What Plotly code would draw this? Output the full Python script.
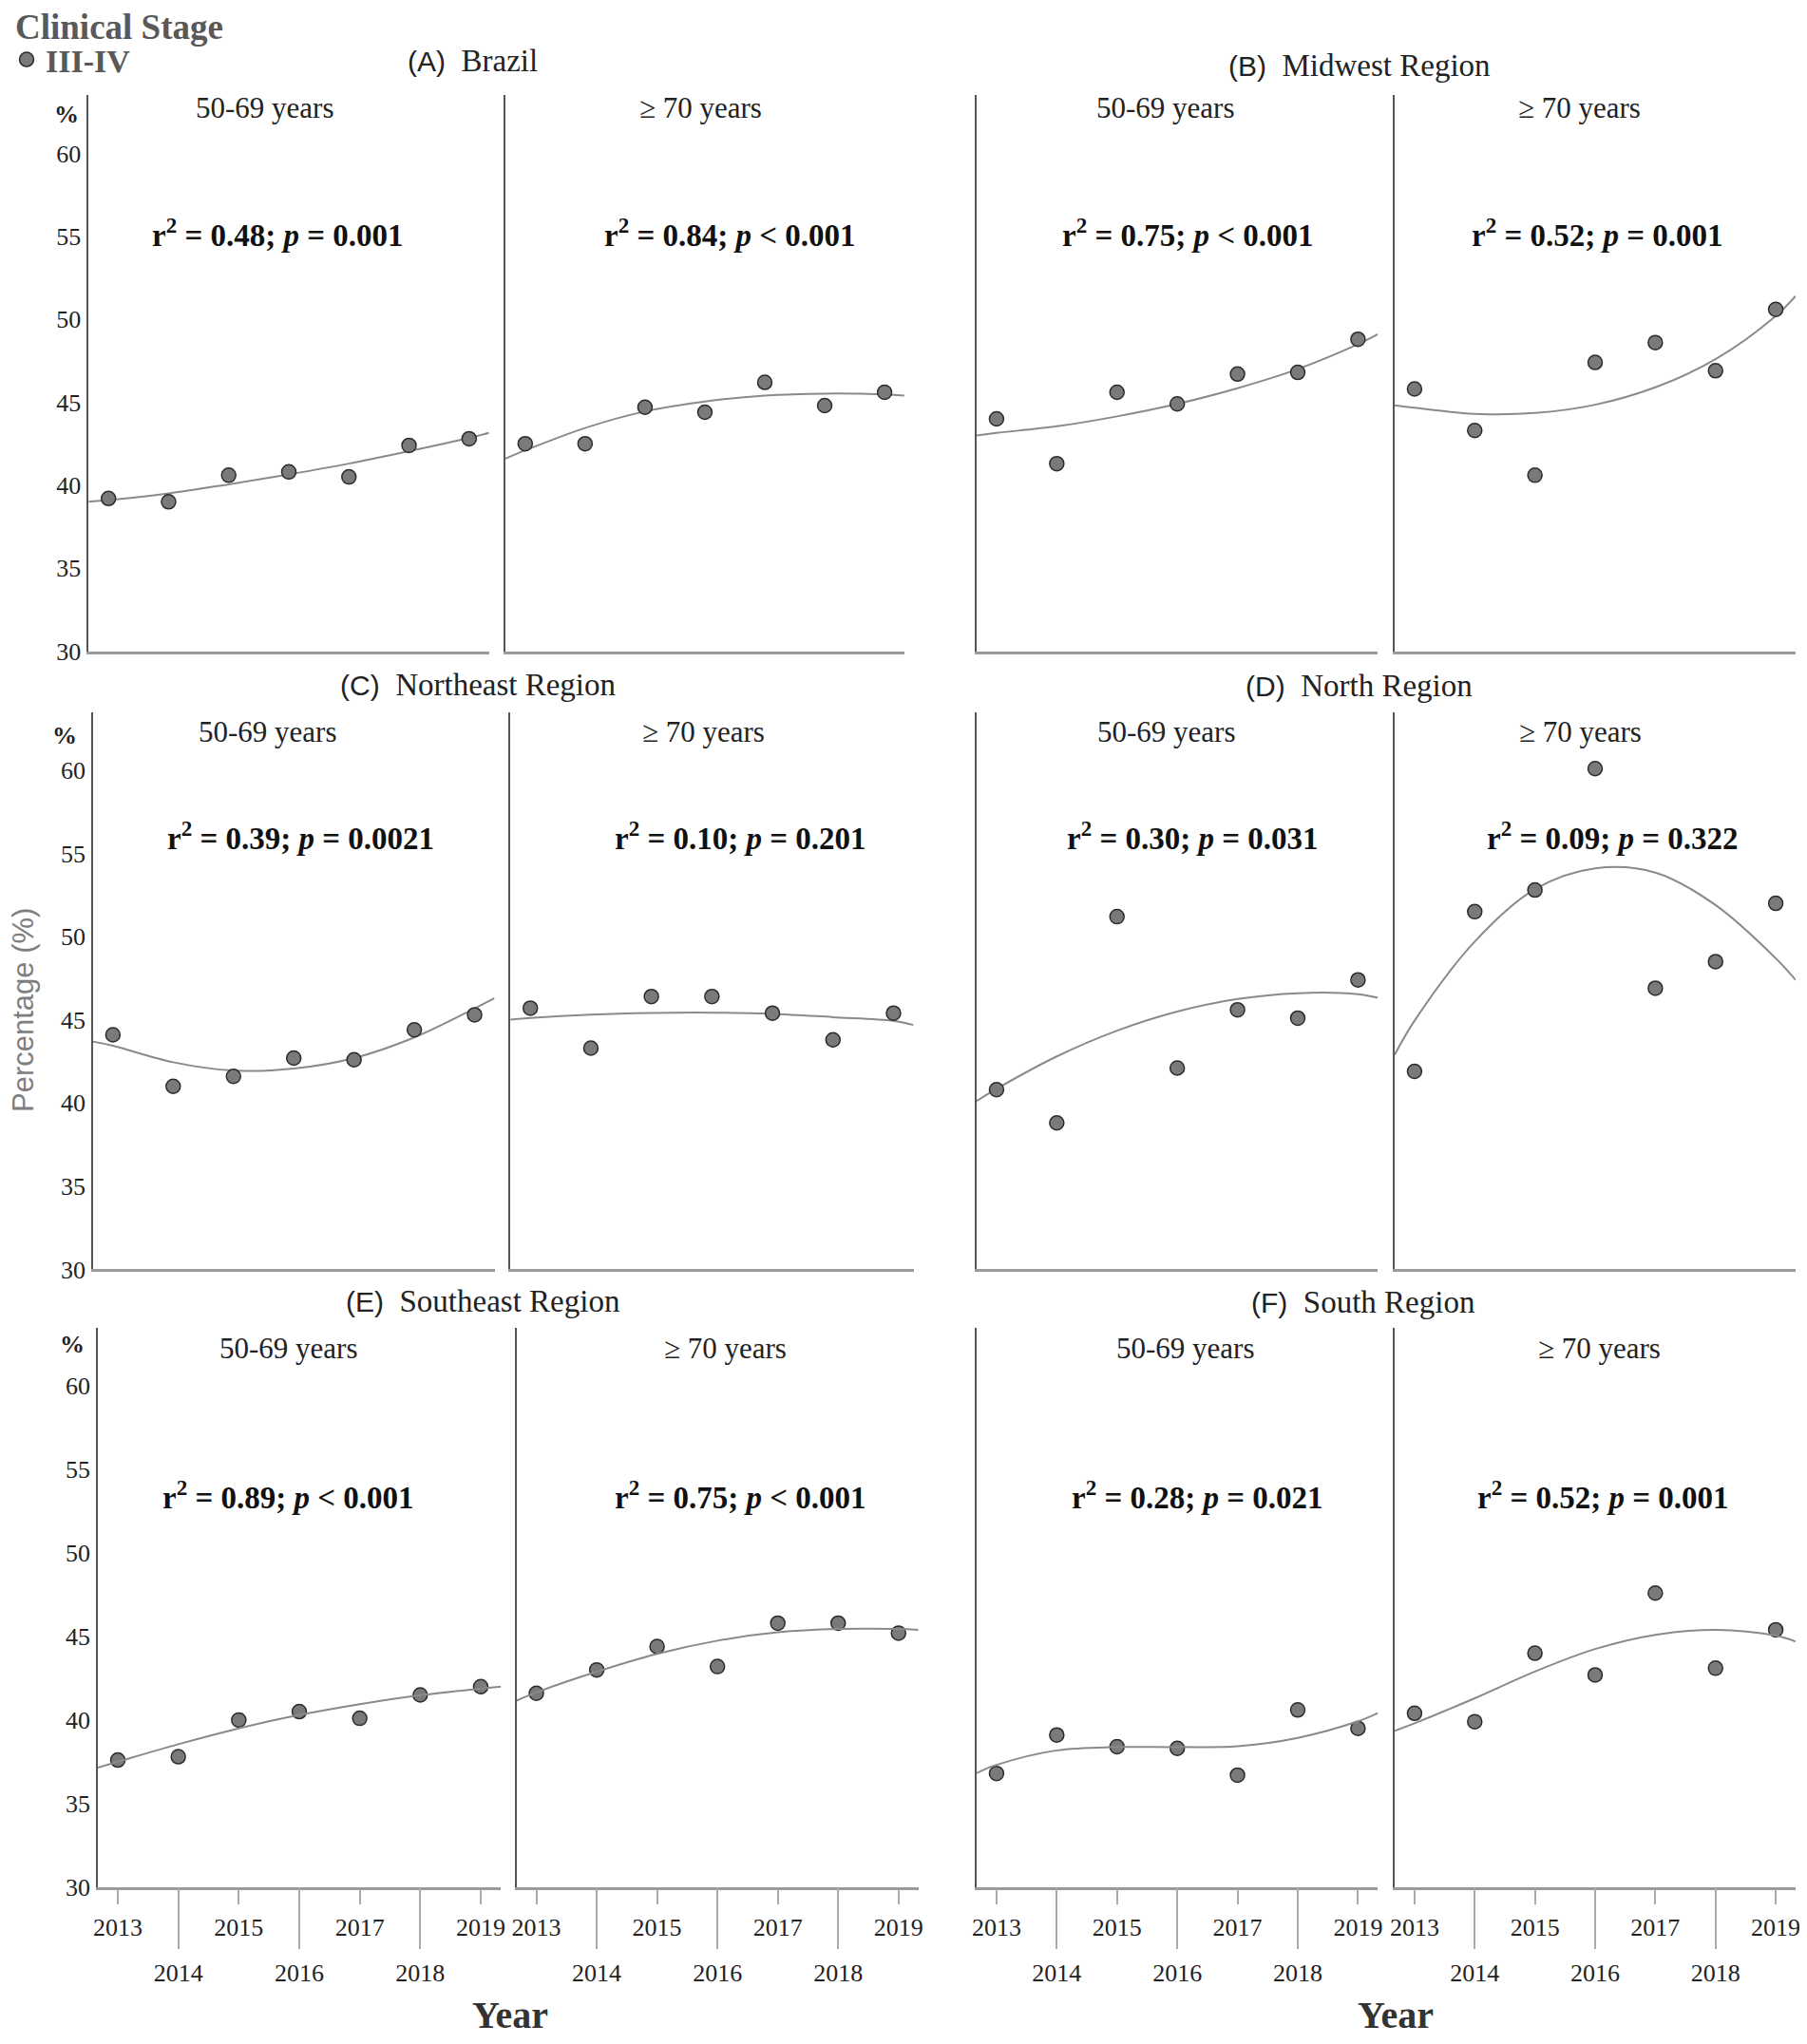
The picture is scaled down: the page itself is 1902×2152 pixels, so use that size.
import plotly.graph_objects as go

years = [2013, 2014, 2015, 2016, 2017, 2018, 2019]
fit_years = [2012.67, 2013, 2014, 2015, 2016, 2017, 2018, 2019, 2019.33]
x_range = [2012.67, 2019.33]
y_ticks = [30, 35, 40, 45, 50, 55, 60]

# Observed percentage of clinical stage III-IV
brazil_50_69 = [39.2, 39.0, 40.6, 40.8, 40.5, 42.4, 42.8]
brazil_70 = [42.5, 42.5, 44.7, 44.4, 46.2, 44.8, 45.6]
midwest_50_69 = [44.0, 41.3, 45.6, 44.9, 46.7, 46.8, 48.8]
midwest_70 = [45.8, 43.3, 40.6, 47.4, 48.6, 46.9, 50.6]
northeast_50_69 = [44.1, 41.0, 41.6, 42.7, 42.6, 44.4, 45.3]
northeast_70 = [45.7, 43.3, 46.4, 46.4, 45.4, 43.8, 45.4]
north_50_69 = [40.8, 38.8, 51.2, 42.1, 45.6, 45.1, 47.4]
north_70 = [41.9, 51.5, 52.8, 60.1, 46.9, 48.5, 52.0]
southeast_50_69 = [37.6, 37.8, 40.0, 40.5, 40.1, 41.5, 42.0]
southeast_70 = [41.6, 43.0, 44.4, 43.2, 45.8, 45.8, 45.2]
south_50_69 = [36.8, 39.1, 38.4, 38.3, 36.7, 40.6, 39.5]
south_70 = [40.4, 39.9, 44.0, 42.7, 47.6, 43.1, 45.4]

# Trend curves at fit_years
brazil_50_69_fit = [39.0, 39.1, 39.5, 40.05, 40.65, 41.3, 42.05, 42.85, 43.15]
brazil_70_fit = [41.6, 42.1, 43.45, 44.45, 45.05, 45.4, 45.52, 45.47, 45.4]
midwest_50_69_fit = [43.0, 43.15, 43.55, 44.15, 44.9, 45.85, 47.0, 48.5, 49.1]
midwest_70_fit = [44.82, 44.67, 44.3, 44.35, 44.85, 45.9, 47.6, 50.2, 51.4]
northeast_50_69_fit = [43.69, 43.44, 42.45, 41.95, 42.07, 42.7, 43.94, 45.68, 46.3]
northeast_70_fit = [45.01, 45.11, 45.31, 45.41, 45.43, 45.36, 45.16, 44.94, 44.69]
north_50_69_fit = [40.12, 40.85, 42.8, 44.35, 45.5, 46.25, 46.6, 46.54, 46.32]
north_70_fit = [42.9, 44.95, 49.7, 52.85, 54.1, 53.85, 51.9, 48.7, 47.4]
southeast_50_69_fit = [37.15, 37.5, 38.55, 39.5, 40.3, 40.95, 41.48, 41.88, 42.0]
southeast_70_fit = [41.16, 41.65, 42.89, 43.96, 44.75, 45.25, 45.45, 45.45, 45.4]
south_50_69_fit = [36.82, 37.31, 38.18, 38.38, 38.38, 38.43, 38.93, 39.92, 40.41]
south_70_fit = [39.35, 39.8, 41.3, 42.9, 44.25, 45.1, 45.4, 45.05, 44.7]

age_groups = ["50-69 years", "\u2265 70 years"]
r2_values = ["0.48", "0.84", "0.75", "0.52", "0.39", "0.10",
             "0.30", "0.09", "0.89", "0.75", "0.28", "0.52"]
p_values = ["= 0.001", "&lt; 0.001", "&lt; 0.001", "= 0.001", "= 0.0021", "= 0.201",
            "= 0.031", "= 0.322", "&lt; 0.001", "&lt; 0.001", "= 0.021", "= 0.001"]

panels = [
    ("(A)", "Brazil", [brazil_50_69, brazil_70], [brazil_50_69_fit, brazil_70_fit]),
    ("(B)", "Midwest Region", [midwest_50_69, midwest_70], [midwest_50_69_fit, midwest_70_fit]),
    ("(C)", "Northeast Region", [northeast_50_69, northeast_70], [northeast_50_69_fit, northeast_70_fit]),
    ("(D)", "North Region", [north_50_69, north_70], [north_50_69_fit, north_70_fit]),
    ("(E)", "Southeast Region", [southeast_50_69, southeast_70], [southeast_50_69_fit, southeast_70_fit]),
    ("(F)", "South Region", [south_50_69, south_70], [south_50_69_fit, south_70_fit]),
]

# ---- geometry: positions are page pixels of the 1902x2152 window ----
# the html body keeps its default 8px margin, so the figure is 16px smaller
PAGE_W, PAGE_H, PAD = 1902, 2152, 8
W, H = PAGE_W - 2 * PAD, PAGE_H - 2 * PAD

row_px = [(100.4, 685.5), (749.7, 1336.4), (1397.7, 1986.7)]
col_px = [
    [(93.3, 514.7), (532, 951.9), (1028, 1450.3), (1468, 1890)],
    [(97.9, 520.5), (537.2, 961.5), (1028, 1450.3), (1468, 1890)],
    [(103, 527), (543.6, 966.7), (1028, 1450.3), (1468, 1890)],
]
title_px = [(497, 64), (1431, 69), (503, 721), (1430, 722), (508, 1370), (1434, 1371)]
sub_x = [0.44, 0.49, 0.47, 0.46, 0.434, 0.479, 0.473, 0.464, 0.473, 0.52, 0.52, 0.51]
r2_x = [0.473, 0.564, 0.528, 0.506, 0.517, 0.572, 0.538, 0.544, 0.473, 0.557, 0.55, 0.52]
sub_y = [62.75, 62.3, 62.25]
r2_y = [55.2, 56.05, 53.45]
pct_px = [(70, 121), (68, 774), (76, 1416)]

serif = "Liberation Serif"
sans = "Liberation Sans"
dark = "#222222"
legend_grey = "#595959"


def fx(px):
    return (px - PAD) / W


def fy(py):
    return 1 - (py - PAD) / H


def aid(n):
    # plotly names the first axis "x"/"y", the rest "x2", "y2", ...
    return "" if n == 1 else str(n)


def note(text, x, y, size, xref="paper", yref="paper", family=serif, color=dark,
         xanchor="center", **kw):
    return dict(x=x, y=y, xref=xref, yref=yref, text=text, showarrow=False,
                xanchor=xanchor, yanchor="middle",
                font=dict(family=family, size=size, color=color), **kw)


fig = go.Figure()
layout = {}
annotations = []

for i, (tag, region, obs, fits) in enumerate(panels):
    row = i // 2
    tx, ty = title_px[i]
    annotations.append(note(
        f"<span style='font-family:{sans}; font-size:30px'>{tag}</span>\u00a0 {region}",
        fx(tx), fy(ty), 33))
    for j in range(2):
        col = (i % 2) * 2 + j
        k = row * 4 + col + 1
        a = aid(k)
        x0, x1 = col_px[row][col]
        y0, y1 = row_px[row]
        fit_xaxis = f"x{a}"
        xa = dict(domain=[fx(x0), fx(x1)], range=x_range, anchor=f"y{a}",
                  showline=True, linecolor="#9a9a9a", linewidth=2.5, automargin=False,
                  showgrid=False, zeroline=False, fixedrange=True)
        if row == 2:
            xa.update(tickmode="array", tickvals=years[::2],
                      ticktext=[str(v) for v in years[::2]],
                      ticks="outside", ticklen=16, tickwidth=2, tickcolor="#aaaaaa",
                      ticklabelstandoff=1, ticklabeloverflow="allow",
                      tickfont=dict(family=serif, size=26, color=dark))
            ov = 13 + col
            fit_xaxis = f"x{ov}"
            layout[f"xaxis{ov}"] = dict(
                overlaying=f"x{a}", anchor=f"y{a}", side="bottom", range=x_range,
                tickmode="array", tickvals=years[1::2],
                ticktext=[str(v) for v in years[1::2]],
                ticks="outside", ticklen=64, tickwidth=2, tickcolor="#aaaaaa",
                ticklabelstandoff=3, ticklabeloverflow="allow",
                tickfont=dict(family=serif, size=26, color=dark),
                showline=False, showgrid=False, zeroline=False, fixedrange=True,
                automargin=False)
        else:
            xa.update(showticklabels=False, ticks="")
        layout[f"xaxis{a}"] = xa
        layout[f"yaxis{a}"] = dict(
            domain=[fy(y1), fy(y0)], range=[30, 63.5], anchor=f"x{a}",
            showline=True, linecolor="#555555", linewidth=1.5, automargin=False,
            showgrid=False, zeroline=False, ticks="", tickvals=y_ticks,
            showticklabels=(col == 0), ticklabelstandoff=1,
            tickfont=dict(family=serif, size=26, color=dark), fixedrange=True)

        fig.add_trace(go.Scatter(
            x=fit_years, y=fits[j], mode="lines",
            line=dict(color="#8a8a8a", width=2, shape="spline"),
            xaxis=fit_xaxis, yaxis=f"y{a}", showlegend=False, hoverinfo="skip"))
        fig.add_trace(go.Scatter(
            x=years, y=obs[j], mode="markers", name="<b>III-IV</b>",
            marker=dict(size=15, color="#7a7a7a", line=dict(color="#2b2b2b", width=1.5)),
            xaxis=f"x{a}", yaxis=f"y{a}", showlegend=(k == 1)))

        annotations.append(note(age_groups[j], sub_x[k - 1], sub_y[row], 31,
                                xref=f"x{a} domain", yref=f"y{a}"))
        annotations.append(note(
            f"<b>r<sup>2</sup> = {r2_values[k - 1]}; <i>p</i> {p_values[k - 1]}</b>",
            r2_x[k - 1], r2_y[row], 33, xref=f"x{a} domain", yref=f"y{a}", color="#111111"))

for px, py in pct_px:
    annotations.append(note("<b>%</b>", fx(px), fy(py), 26))

# the window edge leaves little room above and below, keep these boxes inside
annotations.append(note("<b>Clinical Stage</b>", fx(14), fy(29), 37,
                        color=legend_grey, xanchor="left"))
annotations.append(note("Percentage (%)", fx(24), fy(1064), 31,
                        family=sans, color="#7f7f7f", textangle=-90))
for px in (537, 1469):
    annotations.append(note("<b>Year</b>", fx(px), fy(2121), 40, color="#333333"))

fig.update_layout(
    width=W, height=H, autosize=False,
    margin=dict(l=0, r=0, t=0, b=0, autoexpand=False),
    paper_bgcolor="white", plot_bgcolor="white",
    showlegend=True,
    legend=dict(x=0, y=fy(34), xanchor="left", yanchor="top",
                bgcolor="rgba(0,0,0,0)", tracegroupgap=0,
                font=dict(family=serif, size=34, color=legend_grey)),
    annotations=annotations,
    **layout,
)

fig.write_html("out.html")
